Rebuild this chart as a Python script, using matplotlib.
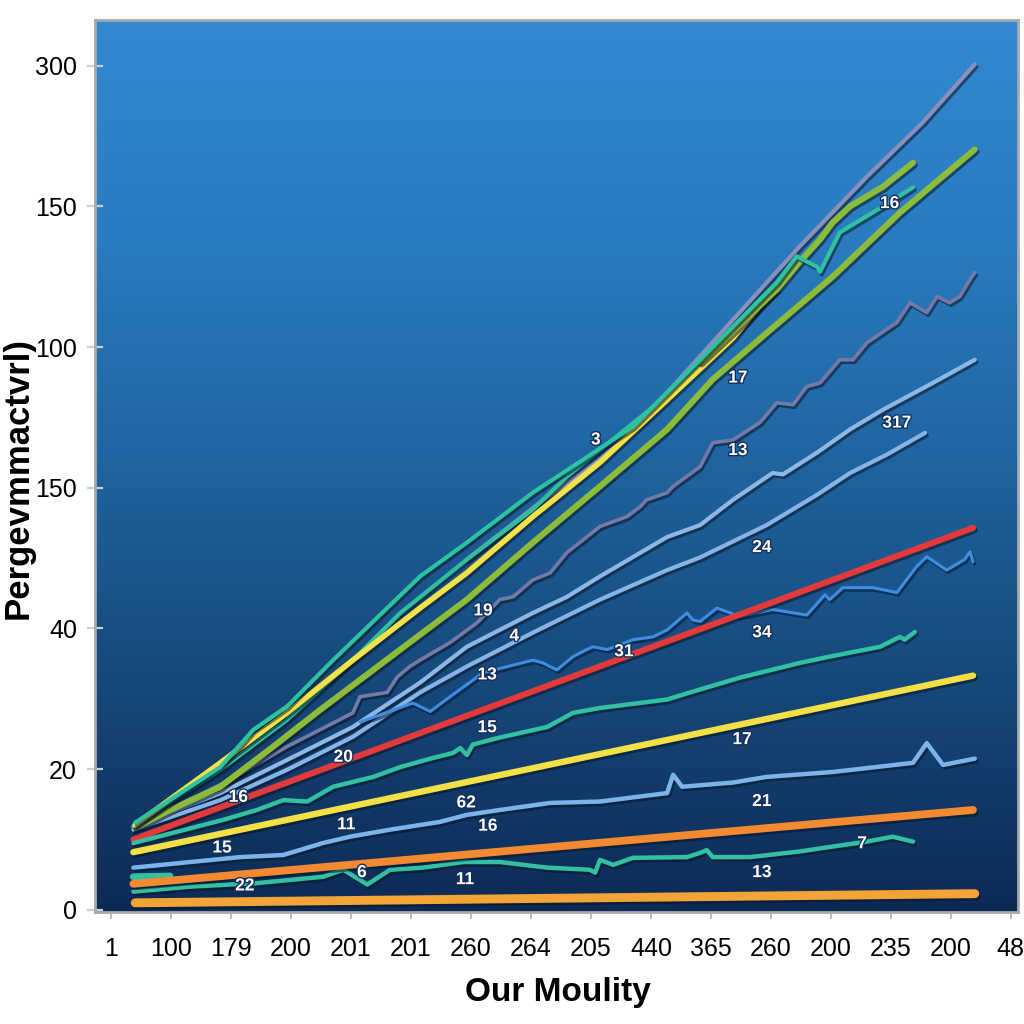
import numpy as np
import matplotlib.pyplot as plt
import matplotlib.patheffects as pe
from matplotlib.colors import LinearSegmentedColormap

plt.rcParams['font.family'] = ['Liberation Sans', 'DejaVu Sans']

# axis labels as printed on the chart
x_labels = ['1', '100', '179', '200', '201', '201', '260', '264', '205', '440',
            '365', '260', '200', '235', '200', '48']
y_ticks = [0, 20, 40, 60, 80, 100, 120]
y_labels = ['0', '20', '40', '150', '100', '150', '300']

# series (x = category position, y = value on the y scale)
orange_low_x = [0.4, 14.4]
orange_low_y = [1.0, 2.3]

teal_stub_x = [0.37, 0.98]
teal_stub_y = [4.7, 4.8]

teal_low_x = [0.37, 1.32, 2.43, 3.53, 3.87, 4.27, 4.65, 5.2, 5.87, 6.48, 7.27, 7.98, 8.07,
              8.15, 8.37, 8.7, 9.6, 9.82, 9.93, 10.03, 10.65, 11.48, 12.03, 12.6, 13.03, 13.37]
teal_low_y = [2.6, 3.3, 3.8, 4.7, 5.7, 3.6, 5.7, 6.0, 6.8, 6.8, 6.0, 5.7, 5.3,
              7.1, 6.4, 7.4, 7.5, 8.1, 8.5, 7.5, 7.5, 8.3, 9.0, 9.7, 10.4, 9.7]

orange_up_x = [0.37, 14.37]
orange_up_y = [3.7, 14.2]

blue_low_x = [0.37, 1.32, 2.15, 2.87, 3.53, 3.98, 4.65, 5.48, 5.93, 6.48, 7.32, 8.15, 9.27,
              9.37, 9.52, 10.37, 10.93, 12.03, 13.37, 13.6, 13.87, 14.4]
blue_low_y = [6.0, 6.8, 7.5, 7.8, 9.5, 10.4, 11.4, 12.5, 13.5, 14.2, 15.2, 15.4, 16.6,
              19.2, 17.5, 18.1, 18.9, 19.6, 20.9, 23.7, 20.6, 21.5]

yellow_low_x = [0.37, 14.37]
yellow_low_y = [8.2, 33.3]

teal_mid_x = [0.37, 1.87, 2.43, 2.87, 3.27, 3.7, 4.37, 4.82, 5.37, 5.7, 5.82, 5.93, 6.03,
              6.48, 7.27, 7.7, 8.15, 9.27, 9.65, 10.48, 11.48, 11.98, 12.82, 13.15, 13.23, 13.4]
teal_mid_y = [9.5, 12.8, 14.2, 15.6, 15.4, 17.5, 18.9, 20.3, 21.6, 22.3, 23.0, 22.0, 23.5,
              24.5, 26.0, 28.0, 28.7, 29.9, 30.9, 33.0, 35.1, 36.0, 37.4, 38.8, 38.4, 39.5]

red_x = [0.37, 14.37]
red_y = [10.0, 54.3]

blue_wig_x = [4.15, 5.03, 5.32, 5.65, 6.2, 7.03, 7.2, 7.43, 7.7, 7.93, 8.03, 8.27, 8.7,
              9.03, 9.27, 9.6, 9.7, 9.82, 10.1, 10.48, 11.03, 11.6, 11.9, 11.98, 12.2,
              12.7, 13.1, 13.43, 13.6, 13.93, 14.23, 14.32, 14.37]
blue_wig_y = [26.7, 29.4, 28.2, 30.3, 33.7, 35.5, 35.1, 34.1, 36.0, 37.0, 37.4, 37.0, 38.4,
              38.8, 39.8, 42.2, 41.2, 41.0, 42.9, 41.7, 42.7, 41.9, 44.8, 44.1, 45.8,
              45.8, 45.1, 48.8, 50.2, 48.3, 49.8, 50.9, 49.5]

blue_317_x = [0.37, 1.82, 2.93, 4.03, 5.15, 5.93, 7.03, 8.15, 9.27, 9.82, 10.93, 11.77,
              12.32, 12.93, 13.57]
blue_317_y = [11.4, 15.6, 19.9, 24.6, 30.9, 34.6, 39.4, 44.1, 48.3, 50.1, 54.7, 59.0,
              62.1, 64.7, 67.8]

blue_up_x = [0.37, 1.82, 2.93, 4.03, 5.15, 5.93, 7.03, 7.6, 8.15, 9.27, 9.82, 10.37, 11.03,
             11.2, 11.77, 12.32, 12.87, 13.7, 14.4]
blue_up_y = [11.8, 16.6, 21.3, 26.0, 32.3, 37.4, 42.2, 44.5, 47.4, 53.0, 54.7, 58.3, 62.1,
             61.9, 65.0, 68.3, 71.1, 74.9, 78.2]

gray_wig_x = [0.4, 1.98, 2.93, 4.03, 4.15, 4.6, 4.77, 4.98, 5.15, 5.65, 6.1, 6.48, 6.7,
              7.03, 7.32, 7.6, 7.87, 8.15, 8.6, 8.82, 8.93, 9.27, 9.37, 9.82, 10.03, 10.37,
              10.82, 11.1, 11.37, 11.6, 11.82, 12.15, 12.37, 12.6, 13.1, 13.32, 13.6, 13.77,
              13.98, 14.15, 14.32, 14.4]
gray_wig_y = [11.7, 18.5, 23.2, 28.0, 30.3, 30.9, 33.1, 34.6, 35.5, 38.0, 40.8, 44.1, 44.5,
              46.9, 47.9, 50.8, 52.6, 54.5, 55.9, 57.3, 58.3, 59.3, 60.2, 63.0, 66.4, 66.8,
              69.3, 72.1, 71.8, 74.4, 74.9, 78.2, 78.2, 80.6, 83.5, 86.3, 84.9, 87.2,
              86.3, 87.2, 89.6, 90.6]

green_low_x = [0.4, 0.98, 1.82, 2.7, 3.48, 4.82, 5.93, 7.03, 8.15, 9.27, 10.03, 10.93,
               12.03, 13.15, 14.4]
green_low_y = [11.7, 14.2, 17.5, 23.2, 28.4, 37.0, 44.1, 52.2, 60.2, 68.3, 75.4, 82.0,
               90.0, 99.1, 108.1]

yellow_up_x = [0.4, 1.82, 2.93, 4.03, 5.15, 5.93, 7.03, 8.15, 9.27, 10.37, 11.1]
yellow_up_y = [12.1, 20.9, 28.0, 35.5, 42.9, 47.9, 55.9, 63.6, 72.5, 81.3, 88.9]

teal2_x = [0.37, 1.82, 2.93, 4.03, 4.82, 5.93, 7.03, 7.6, 8.15, 8.98, 9.82, 10.48, 11.1]
teal2_y = [11.9, 19.9, 27.0, 35.5, 42.2, 49.8, 56.9, 61.6, 65.4, 71.1, 77.5, 82.5, 88.2]

teal_top_x = [0.4, 1.82, 2.37, 2.93, 3.7, 5.15, 5.93, 7.03, 7.87, 8.7, 9.82, 11.1, 11.43,
              11.77, 11.82, 12.15, 12.87, 13.37]
teal_top_y = [12.4, 20.3, 25.6, 28.9, 35.5, 47.4, 52.2, 59.3, 64.0, 68.7, 78.2, 89.2, 92.9,
              91.4, 90.7, 96.3, 100.0, 102.7]

green_up_x = [9.82, 10.48, 11.1, 11.48, 11.82, 12.03, 12.32, 12.87, 13.37]
green_up_y = [77.9, 83.2, 88.2, 92.1, 95.3, 97.7, 100.0, 102.8, 106.2]

gray_top_x = [5.93, 7.15, 8.15, 9.27, 10.37, 11.48, 12.6, 13.53, 14.4]
gray_top_y = [49.8, 57.9, 64.0, 73.5, 83.9, 94.3, 104.2, 111.9, 120.2]

# numbers written over the lines
note_text = ['16', '17', '13', '317', '24', '34', '31', '4', '19', '13', '15', '20', '16',
             '17', '62', '11', '16', '21', '15', '11', '13', '6', '22', '3', '7']
note_x = [12.98, 10.45, 10.45, 13.1, 10.85, 10.85, 8.55, 6.72, 6.2, 6.27, 6.27, 3.87, 2.12,
          10.52, 5.92, 3.92, 6.28, 10.85, 1.85, 5.9, 10.85, 4.18, 2.23, 8.08, 12.52]
note_y = [100.4, 75.6, 65.3, 69.2, 51.5, 39.4, 36.7, 38.9, 42.5, 33.4, 25.9, 21.7, 16.0,
          24.2, 15.2, 12.1, 11.9, 15.4, 8.8, 4.3, 5.3, 5.3, 3.4, 66.8, 9.4]

fig = plt.figure(figsize=(10.24, 10.24), dpi=100, facecolor='white')
ax = fig.add_axes([0.0928, 0.1094, 0.9013, 0.8711])

# blue gradient background
cmap = LinearSegmentedColormap.from_list('bg', ['#0d2a55', '#164779', '#1f649f', '#2a7bbf', '#3289d0'])
grad = np.linspace(0, 1, 256).reshape(-1, 1)
ax.imshow(grad, extent=[0, 1, 0, 1], transform=ax.transAxes, aspect='auto',
          cmap=cmap, origin='lower', zorder=0)

shadow = [pe.SimpleLineShadow(offset=(1.2, -1.8), shadow_color='#061428', alpha=0.55), pe.Normal()]

# (x, y, colour, width) in drawing order, back to front
series = [
    (gray_top_x, gray_top_y, '#8a90bc', 3.0),
    (gray_wig_x, gray_wig_y, '#7479a8', 2.6),
    (blue_up_x, blue_up_y, '#8db8e6', 3.0),
    (blue_317_x, blue_317_y, '#86b4e6', 3.0),
    (green_low_x, green_low_y, '#8cbc3a', 4.4),
    (teal2_x, teal2_y, '#2fbf9f', 3.0),
    (yellow_up_x, yellow_up_y, '#f2e246', 4.0),
    (green_up_x, green_up_y, '#8cbc3a', 4.4),
    (teal_top_x, teal_top_y, '#2cc2a2', 3.0),
    (blue_wig_x, blue_wig_y, '#3d8de2', 2.2),
    (red_x, red_y, '#e23a3a', 4.4),
    (teal_mid_x, teal_mid_y, '#31c0a2', 3.2),
    (yellow_low_x, yellow_low_y, '#f2e046', 4.6),
    (blue_low_x, blue_low_y, '#7cb3ea', 3.2),
    (teal_low_x, teal_low_y, '#33c0a2', 3.2),
    (teal_stub_x, teal_stub_y, '#33c0a2', 5.0),
    (orange_up_x, orange_up_y, '#f28a32', 5.6),
    (orange_low_x, orange_low_y, '#f2a436', 6.4),
]
for i, (xs, ys, c, lw) in enumerate(series):
    ax.plot(xs, ys, color=c, lw=lw, solid_capstyle='round', solid_joinstyle='round',
            path_effects=shadow, zorder=2 + i * 0.1)

for t, x, y in zip(note_text, note_x, note_y):
    ax.text(x, y, t, color='white', fontsize=12.5, fontweight='bold', ha='center', va='center',
            zorder=10, path_effects=[pe.withStroke(linewidth=2, foreground='#12305a')])

ax.set_xlim(-0.27, 15.12)
ax.set_ylim(-0.3, 126.5)
ax.set_xticks(range(len(x_labels)))
ax.set_xticklabels(x_labels, fontsize=18)
ax.set_yticks(y_ticks)
ax.set_yticklabels(y_labels, fontsize=18)
ax.tick_params(axis='y', direction='inout', length=12, width=1.6, color='#c8d0d8', pad=7)
ax.tick_params(axis='x', direction='out', length=5, width=1.4, color='#b8bcc0', pad=13)

for s in ax.spines.values():
    s.set_color('#a6aaae')
    s.set_linewidth(2)

fig.text(0.545, 1 - 993 / 1024, 'Our Moulity', fontsize=24, fontweight='bold',
         ha='center', va='center')
fig.text(0.018, 1 - 478 / 1024, 'Pergevmmactvrl)', fontsize=25, fontweight='bold',
         rotation=90, ha='center', va='center')

fig.savefig('out.png', dpi=100, facecolor='white')
